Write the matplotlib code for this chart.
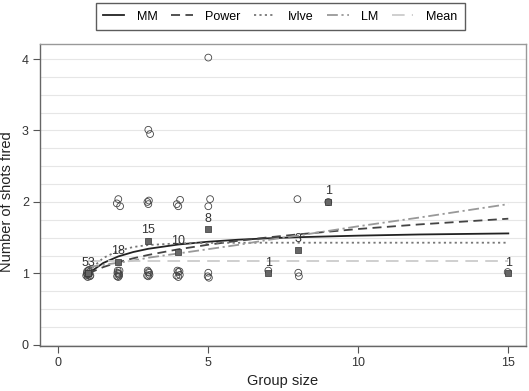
"""Shots fired vs group size, with fitted functional-response curves."""
import matplotlib
matplotlib.use("Agg")
import matplotlib.pyplot as plt
from matplotlib.ticker import MultipleLocator

plt.rcParams["font.family"] = ["Liberation Sans", "DejaVu Sans"]

# individual observations (slightly jittered as drawn)
obs_x = [0.93, 0.96, 1.00, 1.04, 1.07, 0.98, 1.02, 0.95, 1.05, 1.00, 0.97, 1.03,
         1.96, 2.00, 2.04, 1.98, 2.03, 1.97, 2.02, 2.00, 2.00, 1.95, 2.06,
         3.00, 3.06, 2.97, 3.02, 3.00, 2.96, 3.00, 3.04, 2.98, 3.03, 3.00,
         4.06, 3.95, 4.00, 3.94, 4.00, 4.05, 3.97, 4.04, 4.00,
         5.00, 5.06, 5.00, 5.00, 4.98, 5.02,
         7.00, 7.97, 8.00, 8.02, 9.00, 14.98]
obs_y = [0.97, 1.03, 0.99, 1.02, 0.97, 0.95, 1.05, 1.00, 0.96, 1.04, 0.98, 1.00,
         0.96, 1.00, 1.04, 1.04, 0.97, 1.01, 0.99, 0.95, 2.04, 1.98, 1.94,
         3.01, 2.95, 2.00, 2.02, 1.97, 0.97, 1.02, 0.98, 1.04, 1.01, 0.96,
         2.03, 1.97, 1.94, 0.97, 1.02, 0.98, 1.04, 1.03, 0.95,
         4.02, 2.04, 1.94, 1.01, 0.96, 0.94,
         1.04, 2.04, 1.01, 0.96, 2.00, 1.02]

# group means and sample sizes
grp_x = [1, 2, 3, 4, 5, 7, 8, 9, 15]
grp_mean = [1.00, 1.16, 1.46, 1.30, 1.62, 1.00, 1.33, 2.00, 1.00]
grp_n = [53, 18, 15, 10, 8, 1, 3, 1, 1]

# fitted curves
curve_x = [1, 1.5, 2, 2.5, 3, 4, 5, 6, 7, 8, 10, 12, 15]
mm_y = [1.00, 1.147, 1.238, 1.300, 1.345, 1.405, 1.444, 1.472, 1.492, 1.507, 1.529, 1.545, 1.560]
power_y = [1.00, 1.089, 1.157, 1.212, 1.259, 1.338, 1.402, 1.457, 1.505, 1.547, 1.622, 1.685, 1.766]
ivlev_y = [1.03, 1.217, 1.317, 1.370, 1.398, 1.421, 1.427, 1.429, 1.430, 1.430, 1.430, 1.430, 1.430]
lm_y = [1.09, 1.12, 1.15, 1.18, 1.22, 1.28, 1.34, 1.40, 1.47, 1.53, 1.66, 1.78, 1.97]
mean_y = [1.18] * len(curve_x)

fig = plt.figure(figsize=(5.29, 3.91), dpi=100)
ax = fig.add_axes([40 / 529, 45 / 391, 486 / 529, 302 / 391])

ax.plot(curve_x, mm_y, color="#222222", lw=1.3, label="MM")
ax.plot(curve_x, power_y, color="#444444", lw=1.3, dashes=(5, 3), label="Power")
ax.plot(curve_x, ivlev_y, color="#777777", lw=1.3, dashes=(1.2, 1.8), label="Ivlve")
ax.plot(curve_x, lm_y, color="#999999", lw=1.3, dashes=(6, 2, 1.2, 2), label="LM")
ax.plot(curve_x, mean_y, color="#cccccc", lw=1.3, dashes=(7, 4), label="Mean")

ax.scatter(obs_x, obs_y, s=24, facecolors="none", edgecolors="#444444", linewidths=0.6, zorder=3)
ax.scatter(grp_x, grp_mean, s=18, marker="s", color="#666666", edgecolors="#333333",
           linewidths=0.5, zorder=4)
for x, m, n in zip(grp_x, grp_mean, grp_n):
    ax.annotate(str(n), (x, m), xytext=(0, 7.6), textcoords="offset points",
                ha="center", va="center", fontsize=9, color="#333333", zorder=5)

ax.set_xlim(-0.61, 15.59)
ax.set_ylim(-0.015, 4.21)
ax.set_xticks([0, 5, 10, 15])
ax.set_yticks([0, 1, 2, 3, 4])
ax.yaxis.set_minor_locator(MultipleLocator(0.25))
ax.grid(True, axis="y", which="both", color="#e6e6e6", lw=0.8)
ax.set_axisbelow(True)
ax.tick_params(axis="both", which="major", length=5, width=0.8, color="#555555",
               labelsize=9, labelcolor="#333333", pad=3)
ax.tick_params(axis="y", which="minor", length=0)

for side in ["left", "bottom"]:
    ax.spines[side].set_color("#666666")
for side in ["top", "right"]:
    ax.spines[side].set_color("#999999")
for sp in ax.spines.values():
    sp.set_linewidth(1.0)

ax.set_xlabel("Group size", fontsize=10.5, color="#222222")
ax.xaxis.set_label_coords(0.5, -0.093)
ax.set_ylabel("Number of shots fired", fontsize=10.5, color="#222222")
ax.yaxis.set_label_coords(-0.054, 0.477)

fig.legend(loc="upper center", bbox_to_anchor=(280 / 529, 1 - 3 / 391), ncol=5,
           fontsize=9, frameon=True, fancybox=False, edgecolor="#333333",
           handlelength=1.7, handletextpad=1.0, columnspacing=1.1,
           borderpad=0.6, borderaxespad=0)

fig.savefig("out.png", dpi=100)
